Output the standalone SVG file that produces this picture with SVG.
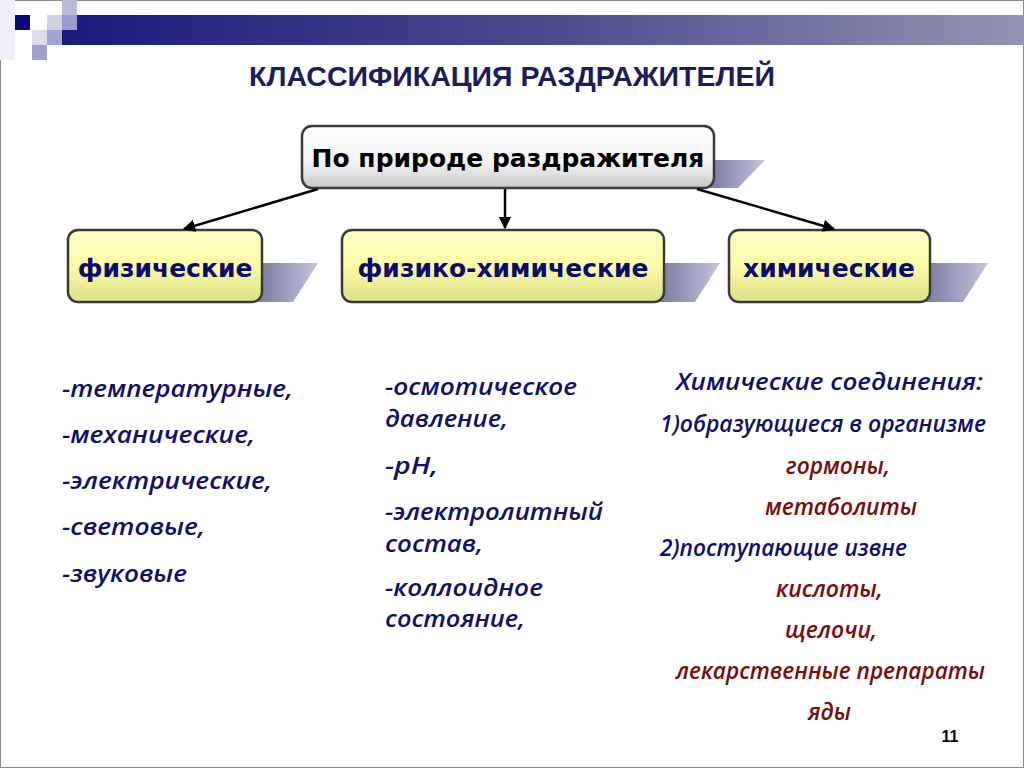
<svg xmlns="http://www.w3.org/2000/svg" width="1024" height="768" viewBox="0 0 1024 768">
<defs>
<linearGradient id="bar" x1="0" y1="0" x2="1" y2="0">
<stop offset="0" stop-color="#1a1a7e"/>
<stop offset="0.5" stop-color="#4a4a8c"/>
<stop offset="1" stop-color="#9494b4"/>
</linearGradient>
<linearGradient id="gray" x1="0" y1="0" x2="0" y2="1">
<stop offset="0" stop-color="#ffffff"/>
<stop offset="0.6" stop-color="#f2f2f2"/>
<stop offset="1" stop-color="#c8c8c8"/>
</linearGradient>
<linearGradient id="yel" x1="0" y1="0" x2="0" y2="1">
<stop offset="0" stop-color="#ffffc8"/>
<stop offset="0.5" stop-color="#fbfba6"/>
<stop offset="1" stop-color="#e0e08a"/>
</linearGradient>
<linearGradient id="shd" x1="0" y1="0" x2="1" y2="0">
<stop offset="0" stop-color="#7a7aa4"/>
<stop offset="1" stop-color="#c4c4dc"/>
</linearGradient>
<marker id="arr" viewBox="0 0 10 10" refX="9" refY="5" markerWidth="5" markerHeight="5" orient="auto" markerUnits="strokeWidth">
<path d="M0,0 L10,5 L0,10 z" fill="#000"/>
</marker>
<style>
.title{font-family:"Liberation Sans",Arial,sans-serif;font-weight:bold;font-size:28.5px;fill:#1c1c5c;}
.box{stroke:#3a3a3a;stroke-width:2.5;}
.btxt{font-family:"DejaVu Sans",sans-serif;font-weight:bold;font-size:25px;}
.lst{font-family:"Open Sans","Noto Sans",sans-serif;font-style:italic;font-weight:600;font-size:24px;fill:#10106a;}
.red{fill:#7a0c0c;}
.conn{stroke:#000;stroke-width:2.5;fill:none;}
</style>
</defs>
<rect width="1024" height="768" fill="#ffffff"/>
<rect x="0.5" y="0.5" width="1023" height="767" fill="none" stroke="#8a8a8a" stroke-width="1"/>
<g id="header">
<rect x="62" y="15" width="962" height="30" fill="url(#bar)"/>
<rect x="0" y="0" width="15" height="60" fill="#f0f0f8"/>
<rect x="15" y="15" width="15" height="15" fill="#0a0a80"/>
<rect x="62" y="0" width="15" height="15" fill="#b8b8d8"/>
<rect x="47" y="15" width="15" height="15" fill="#d0d0e6"/>
<rect x="62" y="15" width="15" height="15" fill="#9a9acc"/>
<rect x="32" y="30" width="15" height="15" fill="#dcdcec"/>
<rect x="47" y="30" width="15" height="15" fill="#a4a4d0"/>
<rect x="32" y="45" width="15" height="15" fill="#a0a0c8"/>
</g>
<text class="title" x="512" y="86" text-anchor="middle">КЛАССИФИКАЦИЯ РАЗДРАЖИТЕЛЕЙ</text>
<g id="root">
<polygon points="710,160 765,160 738,188 710,188" fill="url(#shd)"/>
<rect class="box" x="302" y="126" width="412" height="62" rx="10" fill="url(#gray)"/>
<text class="btxt" x="508" y="167" text-anchor="middle" fill="#000">По природе раздражителя</text>
</g>
<g id="phys">
<polygon points="258,263 318,263 293,302 258,302" fill="url(#shd)"/>
<rect class="box" x="68" y="230" width="194" height="72" rx="10" fill="url(#yel)"/>
<text class="btxt" x="165" y="277" text-anchor="middle" fill="#0a0a6e">физические</text>
</g>
<g id="physchem">
<polygon points="660,263 720,263 695,302 660,302" fill="url(#shd)"/>
<rect class="box" x="342" y="230" width="322" height="72" rx="10" fill="url(#yel)"/>
<text class="btxt" x="503" y="277" text-anchor="middle" fill="#0a0a6e">физико-химические</text>
</g>
<g id="chem">
<polygon points="926,263 988,263 963,302 926,302" fill="url(#shd)"/>
<rect class="box" x="729" y="230" width="201" height="72" rx="10" fill="url(#yel)"/>
<text class="btxt" x="829" y="277" text-anchor="middle" fill="#0a0a6e">химические</text>
</g>
<g id="connectors">
<line class="conn" x1="318" y1="189" x2="184" y2="229" marker-end="url(#arr)"/>
<line class="conn" x1="505" y1="189" x2="505" y2="228" marker-end="url(#arr)"/>
<line class="conn" x1="697" y1="189" x2="834" y2="229" marker-end="url(#arr)"/>
</g>
<g id="list-phys">
<text class="lst" x="62" y="397" textLength="231" lengthAdjust="spacingAndGlyphs">-температурные,</text>
<text class="lst" x="62" y="443" textLength="193" lengthAdjust="spacingAndGlyphs">-механические,</text>
<text class="lst" x="62" y="489" textLength="210" lengthAdjust="spacingAndGlyphs">-электрические,</text>
<text class="lst" x="62" y="535" textLength="143" lengthAdjust="spacingAndGlyphs">-световые,</text>
<text class="lst" x="62" y="582" textLength="125" lengthAdjust="spacingAndGlyphs">-звуковые</text>
</g>
<g id="list-physchem">
<text class="lst" x="385" y="395" textLength="192" lengthAdjust="spacingAndGlyphs">-осмотическое</text>
<text class="lst" x="385" y="427" textLength="123" lengthAdjust="spacingAndGlyphs">давление,</text>
<text class="lst" x="385" y="474" textLength="53" lengthAdjust="spacingAndGlyphs">-pH,</text>
<text class="lst" x="385" y="520" textLength="218" lengthAdjust="spacingAndGlyphs">-электролитный</text>
<text class="lst" x="385" y="552" textLength="98" lengthAdjust="spacingAndGlyphs">состав,</text>
<text class="lst" x="385" y="596" textLength="158" lengthAdjust="spacingAndGlyphs">-коллоидное</text>
<text class="lst" x="385" y="627" textLength="140" lengthAdjust="spacingAndGlyphs">состояние,</text>
</g>
<g id="list-chem">
<text class="lst" x="676" y="390" textLength="307" lengthAdjust="spacingAndGlyphs">Химические соединения:</text>
<text class="lst" x="660" y="432" textLength="326" lengthAdjust="spacingAndGlyphs">1)образующиеся в организме</text>
<text class="lst red" x="786" y="474" textLength="104" lengthAdjust="spacingAndGlyphs">гормоны,</text>
<text class="lst red" x="765" y="515" textLength="152" lengthAdjust="spacingAndGlyphs">метаболиты</text>
<text class="lst" x="660" y="556" textLength="247" lengthAdjust="spacingAndGlyphs">2)поступающие извне</text>
<text class="lst red" x="776" y="597" textLength="107" lengthAdjust="spacingAndGlyphs">кислоты,</text>
<text class="lst red" x="785" y="638" textLength="92" lengthAdjust="spacingAndGlyphs">щелочи,</text>
<text class="lst red" x="676" y="679" textLength="309" lengthAdjust="spacingAndGlyphs">лекарственные препараты</text>
<text class="lst red" x="808" y="720" textLength="43" lengthAdjust="spacingAndGlyphs">яды</text>
</g>
<text x="950" y="742" text-anchor="middle" font-family="Liberation Sans, Arial, sans-serif" font-weight="bold" font-size="16" fill="#000">11</text>
</svg>
